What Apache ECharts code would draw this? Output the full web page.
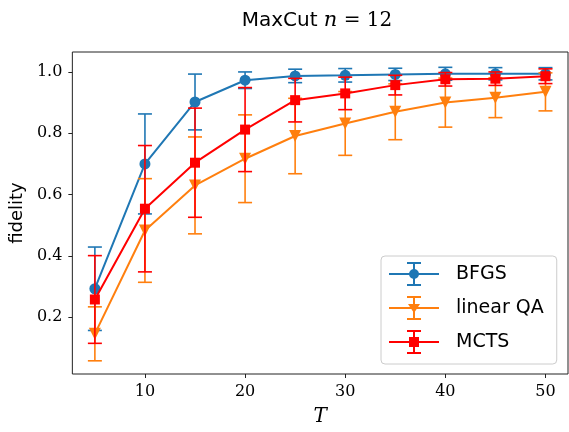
<!DOCTYPE html>
<html>
<head>
<meta charset="utf-8">
<script src="https://cdn.jsdelivr.net/npm/echarts@6/dist/echarts.min.js"></script>
<style>
html,body{margin:0;padding:0;background:#fff;}
#chart{width:569px;height:432px;}
</style>
</head>
<body>
<div id="chart"></div>
<script>
const T = [5, 10, 15, 20, 25, 30, 35, 40, 45, 50];
const bfgsMean = [0.293, 0.700, 0.902, 0.973, 0.987, 0.989, 0.992, 0.994, 0.994, 0.994];
const bfgsErr  = [0.136, 0.163, 0.091, 0.027, 0.022, 0.022, 0.020, 0.021, 0.020, 0.020];
const qaMean   = [0.146, 0.483, 0.630, 0.717, 0.791, 0.832, 0.870, 0.900, 0.916, 0.935];
const qaErr    = [0.088, 0.169, 0.158, 0.143, 0.123, 0.104, 0.091, 0.080, 0.065, 0.062];
const mctsMean = [0.258, 0.554, 0.704, 0.812, 0.908, 0.930, 0.957, 0.976, 0.978, 0.986];
const mctsErr  = [0.143, 0.206, 0.178, 0.137, 0.071, 0.053, 0.032, 0.022, 0.022, 0.024];
const xTicks = [10, 20, 30, 40, 50];
const yTicks = [0.2, 0.4, 0.6, 0.8, 1.0];

const C_BFGS = '#1f77b4', C_QA = '#ff7f0e', C_MCTS = '#ff0000';

function pts(mean) { return T.map((t, i) => [t, mean[i]]); }
function errPts(mean, err) { return T.map((t, i) => [t, mean[i], err[i]]); }

function errSeries(name, mean, err, color, z) {
  return {
    name: name, type: 'custom', z: z, silent: true,
    data: errPts(mean, err),
    renderItem: function (params, api) {
      const x = api.value(0), y = api.value(1), e = api.value(2);
      const top = api.coord([x, y + e]);
      const bot = api.coord([x, y - e]);
      const hw = 7;
      const st = { stroke: color, lineWidth: 1.6 };
      return {
        type: 'group',
        children: [
          { type: 'line', shape: { x1: top[0], y1: top[1], x2: bot[0], y2: bot[1] }, style: st },
          { type: 'line', shape: { x1: top[0] - hw, y1: top[1], x2: top[0] + hw, y2: top[1] }, style: st },
          { type: 'line', shape: { x1: bot[0] - hw, y1: bot[1], x2: bot[0] + hw, y2: bot[1] }, style: st }
        ]
      };
    }
  };
}

function lineSeries(name, mean, color, symbol, size, rot, z) {
  return {
    name: name, type: 'line', z: z, data: pts(mean),
    symbol: symbol, symbolSize: size, symbolRotate: rot,
    showAllSymbol: true,
    lineStyle: { color: color, width: 2 },
    itemStyle: { color: color, borderWidth: 0 },
    emphasis: { disabled: true },
    animation: false
  };
}

// icon drawn in a 62x24 box: visible glyph in 0..50, tiny invisible anchor at 62 to keep text gap
const base = 'M0,11 h50 v2 h-50 Z M24,0 h2 v24 h-2 Z M18,0 h14 v2 h-14 Z M18,22 h14 v2 h-14 Z M61.99,12 h0.01 v0.01 h-0.01 Z ';
const iconCircle = 'path://' + base + 'M20,12 A5,5 0 1,1 30,12 A5,5 0 1,1 20,12 Z';
const iconTri = 'path://' + base + 'M19,8 L31,8 L25,17 Z';
const iconSq = 'path://' + base + 'M20,7 h10 v10 h-10 Z';

const chart = echarts.init(document.getElementById('chart'), null, { renderer: 'canvas' });
chart.setOption({
  animation: false,
  backgroundColor: '#ffffff',
  title: {
    left: 312, textAlign: 'center', top: 5,
    text: '{a|MaxCut }{b|n}{c| = 12}',
    textStyle: {
      fontWeight: 'normal',
      rich: {
        a: { fontFamily: 'DejaVu Sans', fontSize: 20, fontWeight: 'normal', color: '#000' },
        b: { fontFamily: 'DejaVu Serif', fontStyle: 'italic', fontWeight: 'normal', fontSize: 21, color: '#000' },
        c: { fontFamily: 'DejaVu Serif', fontSize: 20, fontWeight: 'normal', color: '#000' }
      }
    }
  },
  grid: {
    left: 72, top: 52, right: 1, bottom: 57,
    show: true, borderColor: '#222', borderWidth: 1, backgroundColor: 'transparent'
  },
  legend: {
    orient: 'vertical', left: 381, top: 256,
    padding: [6, 13, 10, 8],
    itemWidth: 62, itemHeight: 24, itemGap: 10,
    symbolKeepAspect: true,
    backgroundColor: 'rgba(255,255,255,0.8)',
    borderColor: '#cccccc', borderWidth: 1, borderRadius: 4,
    textStyle: { fontFamily: 'DejaVu Sans', fontSize: 19, color: '#000' },
    itemStyle: { borderWidth: 0 },
    selectedMode: false,
    data: [
      { name: 'BFGS', icon: iconCircle, itemStyle: { color: C_BFGS } },
      { name: 'linear QA', icon: iconTri, itemStyle: { color: C_QA } },
      { name: 'MCTS', icon: iconSq, itemStyle: { color: C_MCTS } }
    ]
  },
  xAxis: {
    type: 'value', min: 2.75, max: 52.25,
    name: 'T', nameLocation: 'middle', nameGap: 33,
    nameTextStyle: { fontFamily: 'DejaVu Serif', fontStyle: 'italic', fontSize: 20, color: '#000' },
    axisLine: { show: false },
    splitLine: { show: false },
    axisTick: { show: true, length: 4, inside: false, customValues: xTicks, lineStyle: { color: '#222', width: 1 } },
    axisLabel: { customValues: xTicks, margin: 10, fontFamily: 'DejaVu Serif', fontSize: 16, color: '#000' }
  },
  yAxis: {
    type: 'value', min: 0.015, max: 1.065,
    name: 'fidelity', nameLocation: 'middle', nameGap: 46, nameRotate: 90,
    nameTextStyle: { fontFamily: 'DejaVu Sans', fontSize: 18, color: '#000' },
    axisLine: { show: false },
    splitLine: { show: false },
    axisTick: { show: true, length: 4, inside: false, customValues: yTicks, lineStyle: { color: '#222', width: 1 } },
    axisLabel: { customValues: yTicks, margin: 10, fontFamily: 'DejaVu Serif', fontSize: 16, color: '#000',
      formatter: function (v) { return v.toFixed(1); } }
  },
  series: [
    errSeries('BFGS err', bfgsMean, bfgsErr, C_BFGS, 2),
    lineSeries('BFGS', bfgsMean, C_BFGS, 'circle', 11, 0, 3),
    errSeries('linear QA err', qaMean, qaErr, C_QA, 4),
    lineSeries('linear QA', qaMean, C_QA, 'triangle', 12, 180, 5),
    errSeries('MCTS err', mctsMean, mctsErr, C_MCTS, 6),
    lineSeries('MCTS', mctsMean, C_MCTS, 'rect', 10, 0, 7)
  ]
});
</script>
</body>
</html>
